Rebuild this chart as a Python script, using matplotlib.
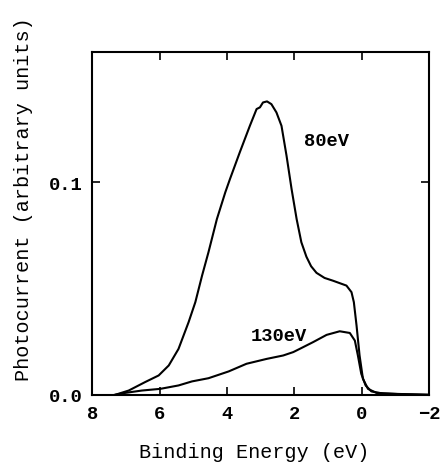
import numpy as np
import matplotlib.pyplot as plt
from matplotlib import rcParams

rcParams['font.family'] = 'Liberation Mono'
rcParams['font.weight'] = 'bold'
rcParams['font.size'] = 14.5

# 80 eV spectrum (binding energy, photocurrent)
e80 = [7.32, 6.92, 6.43, 6.03, 5.73, 5.44, 5.14, 4.94, 4.74, 4.55, 4.30, 4.05,
       3.91, 3.62, 3.32, 3.12, 3.02, 2.93, 2.81, 2.68, 2.53, 2.38, 2.23, 2.08,
       1.93, 1.79, 1.64, 1.50, 1.34, 1.10, 0.85, 0.45, 0.30, 0.23, 0.15, 0.06,
       -0.04, -0.19, -0.44, -1.13, -2.0]
i80 = [0.0, 0.002, 0.006, 0.0091, 0.0138, 0.0216, 0.0342, 0.0436, 0.0561,
       0.0671, 0.0827, 0.0953, 0.1016, 0.1141, 0.1266, 0.1345, 0.1353, 0.1376,
       0.1381, 0.1368, 0.1329, 0.1266, 0.1125, 0.0968, 0.0827, 0.0718, 0.0650,
       0.0605, 0.0574, 0.0550, 0.0537, 0.0514, 0.0483, 0.0436, 0.0326, 0.0185,
       0.0075, 0.0028, 0.0009, 0.0003, 0.0]

# 130 eV spectrum
e130 = [7.33, 7.02, 6.53, 5.98, 5.44, 5.04, 4.55, 3.95, 3.42, 2.82, 2.33, 2.03,
        1.84, 1.44, 1.04, 0.65, 0.35, 0.20, 0.11, 0.01, -0.12, -0.29, -0.63,
        -2.0]
i130 = [0.0, 0.0009, 0.002, 0.0028, 0.0044, 0.0063, 0.0078, 0.011, 0.0146,
        0.0169, 0.0185, 0.0201, 0.0216, 0.0248, 0.0282, 0.0299, 0.0291, 0.0255,
        0.0185, 0.0099, 0.0044, 0.0016, 0.0006, 0.0]

fig = plt.figure(figsize=(4.44, 4.64), dpi=100)
ax = fig.add_axes([0.208, 0.147, 0.758, 0.739])

ax.plot(e80, i80, color='black', lw=1.5)
ax.plot(e130, i130, color='black', lw=1.5)

ax.text(1.04, 0.1196, '80eV', ha='center', va='center', fontsize=13.5)
ax.text(2.45, 0.0279, '130eV', ha='center', va='center', fontsize=13.5)

ax.set_xlim(8, -2)
ax.set_ylim(0, 0.1614)
ax.set_xticks([8, 6, 4, 2, 0, -2])
ax.set_xticklabels(['8', '6', '4', '2', '0', '\u22122'])
ax.set_yticks([0.0, 0.1])
ax.set_yticklabels(['0.0', '0.1'])
ax.tick_params(direction='in', top=True, right=True, length=6, width=1.2,
               pad=7, labelsize=13.5)
for s in ax.spines.values():
    s.set_linewidth(1.5)

ax.set_xlabel('Binding Energy (eV)')
ax.set_ylabel('Photocurrent (arbitrary units)')
ax.xaxis.set_label_coords(0.48, -0.137)
ax.yaxis.set_label_coords(-0.176, 0.575)

fig.savefig('out.png', dpi=100)
